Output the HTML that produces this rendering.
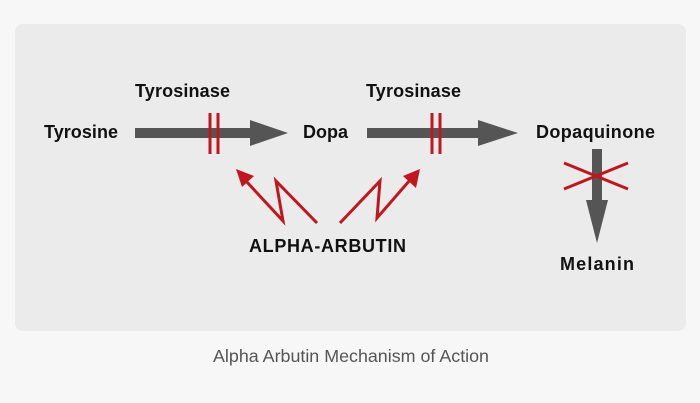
<!DOCTYPE html>
<html><head><style>
body{margin:0;width:700px;height:403px;background:#f7f7f7;overflow:hidden}
svg{display:block}
</style></head><body>
<svg width="700" height="403" viewBox="0 0 700 403" xmlns="http://www.w3.org/2000/svg">
<rect x="15" y="24" width="671" height="307" rx="8" fill="#ebebeb"/>
<g font-family="Liberation Sans, Arial, sans-serif" font-weight="bold" font-size="18" fill="#111" lengthAdjust="spacingAndGlyphs">
<text x="44" y="138" textLength="74">Tyrosine</text>
<text x="135" y="97" textLength="95">Tyrosinase</text>
<text x="303" y="138">Dopa</text>
<text x="366" y="97" textLength="95">Tyrosinase</text>
<text x="536" y="138" textLength="119">Dopaquinone</text>
<text x="249" y="252" textLength="157">ALPHA-ARBUTIN</text>
<text x="560" y="270" textLength="74">Melanin</text>
</g>
<text x="213" y="362" textLength="276" lengthAdjust="spacingAndGlyphs" font-family="Liberation Sans, Arial, sans-serif" font-size="17.5" fill="#555">Alpha Arbutin Mechanism of Action</text>
<g fill="#555">
<rect x="135" y="128" width="117" height="10"/>
<polygon points="250,120 288,133 250,146"/>
<rect x="367" y="128" width="113" height="10"/>
<polygon points="478,120 518,133 478,146"/>
<rect x="592" y="149" width="10" height="53"/>
<polygon points="586,200 608,200 597,243"/>
</g>
<g stroke="#c0161e" stroke-width="3" fill="none">
<line x1="210" y1="113" x2="210" y2="154"/><line x1="218" y1="113" x2="218" y2="154"/>
<line x1="432" y1="113" x2="432" y2="154"/><line x1="440" y1="113" x2="440" y2="154"/>
<line x1="564" y1="163" x2="628" y2="189"/><line x1="564" y1="189" x2="628" y2="163"/>
<polyline points="317,223 276,181 283,221 246,181"/>
<polyline points="340,223 380,181 377,218 410,180"/>
</g>
<g fill="#c0161e">
<polygon points="236,169 254,176 242,187"/>
<polygon points="420,169 416,188 403,176"/>
</g>
</svg>
</body></html>
